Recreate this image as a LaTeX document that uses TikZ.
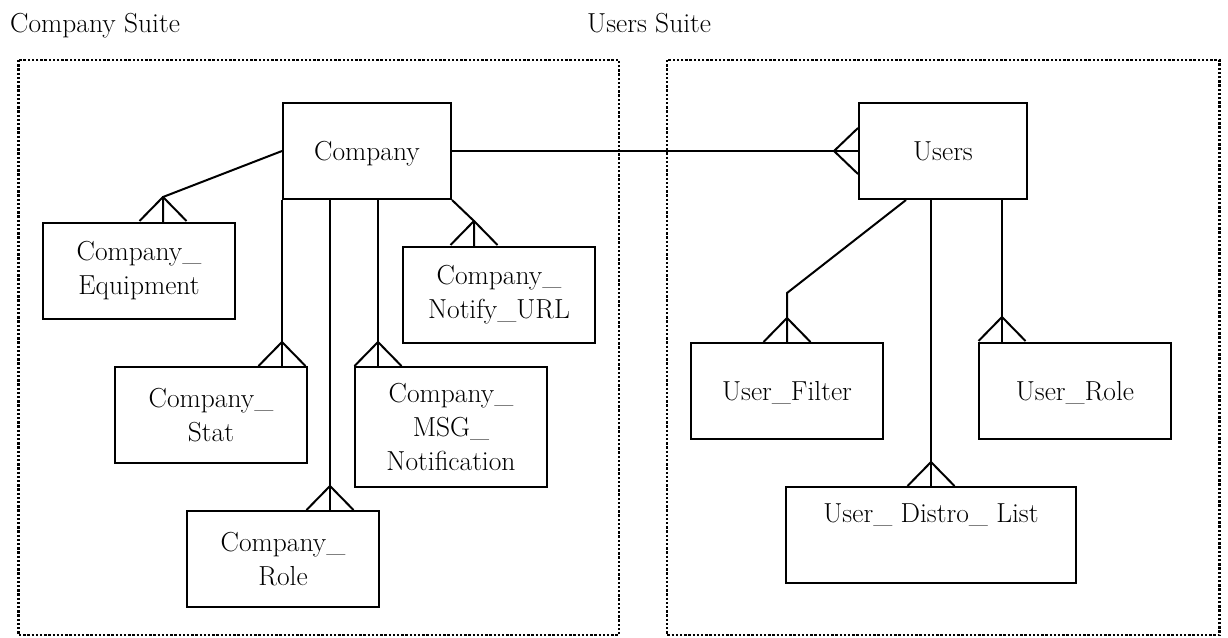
\documentclass[tikz,border=0pt]{standalone}
\usepackage{fontspec}
\usetikzlibrary{calc}
\begin{document}
\begin{tikzpicture}[x=1pt,y=-1pt,
  ent/.style={draw,line width=2pt,align=center,inner sep=0pt,font=\fontsize{27.5}{34}\selectfont},
  oneline/.style={text depth=0pt},
  conn/.style={line width=2pt},
  dotbox/.style={line width=2.5pt,dash pattern=on 2.4pt off 1.8pt},
  lbl/.style={anchor=base west,inner sep=0pt,font=\fontsize{27.5}{34}\selectfont}]
\useasboundingbox (0,0) rectangle (1228,637);
% suite labels and frames
\node[lbl] (cs) at (10,32) {Company Suite};
\node[lbl] (us) at (587,32) {Users Suite};
\draw[dotbox] (18.6,60) rectangle (619,635);
\draw[dotbox] (667,60) rectangle (1219.5,635);
% entities
\node[ent,oneline,minimum width=168pt,minimum height=96pt] (company) at (367,151) {Company};
\node[ent,oneline,minimum width=168pt,minimum height=96pt] (users) at (943,151) {Users};
\node[ent,minimum width=192pt,minimum height=96pt] (equip) at (139,271) {Company\_\\Equipment};
\node[ent,minimum width=192pt,minimum height=96pt] (notify) at (499,295) {Company\_\\Notify\_URL};
\node[ent,minimum width=192pt,minimum height=96pt] (stat) at (211,415) {Company\_\\Stat};
\node[ent,minimum width=192pt,minimum height=120pt] (msg) at (451,427) {Company\_\\MSG\_\\Notification};
\node[ent,minimum width=192pt,minimum height=96pt] (role) at (283,559) {Company\_\\Role};
\node[ent,oneline,minimum width=192pt,minimum height=96pt] (filter) at (787,391) {User\_Filter};
\node[ent,oneline,minimum width=192pt,minimum height=96pt] (urole) at (1075,391) {User\_Role};
\node[ent,minimum width=290pt,minimum height=96pt] (distro) at (931,535) {User\_ Distro\_ List\\ \strut};
% connectors
\newcommand\crowfoot[1]{\draw[conn] (#1) -- ++(-23.5,24) (#1) -- ++(23.5,24);}
% Company -- Users
\draw[conn] (company.east) -- (users.west);
\coordinate (ua) at ($(users.west)+(-24,0)$);
\draw[conn] (ua) -- ++(24,-23) (ua) -- ++(24,23);
% Company -- Equipment
\coordinate (eqb) at ($(equip.north)+(24,-25)$);
\draw[conn] (company.west) -- (eqb) -- (eqb |- equip.north);
\crowfoot{eqb}
% Company -- Notify
\coordinate (nb) at ($(notify.north)+(-25,-25)$);
\draw[conn] (company.south east) -- (nb) -- (nb |- notify.north);
\crowfoot{nb}
% Company -- Stat
\draw[conn] (company.south west) -- (company.south west |- stat.north);
\coordinate (sa) at ($(company.south west |- stat.north)+(0,-24)$);
\crowfoot{sa}
% Company -- Role
\coordinate (rt) at ($(company.south west)+(48,0)$);
\draw[conn] (rt) -- (rt |- role.north);
\coordinate (ra) at ($(rt |- role.north)+(0,-24)$);
\crowfoot{ra}
% Company -- MSG
\coordinate (mt) at ($(company.south west)+(96,0)$);
\draw[conn] (mt) -- (mt |- msg.north);
\coordinate (ma) at ($(mt |- msg.north)+(0,-24)$);
\crowfoot{ma}
% Users -- Filter
\coordinate (ft) at ($(users.south west)+(48,0)$);
\coordinate (fb) at ($(filter.north)+(0,-49)$);
\draw[conn] (ft) -- (fb) -- (filter.north);
\coordinate (fa) at ($(filter.north)+(0,-24)$);
\crowfoot{fa}
% Users -- Distro
\draw[conn] (distro.north |- users.south) -- (distro.north);
\coordinate (da) at ($(distro.north)+(0,-24)$);
\crowfoot{da}
% Users -- User_Role
\coordinate (ot) at ($(users.south west)+(144,0)$);
\draw[conn] (ot) -- (ot |- urole.north);
\coordinate (oa) at ($(ot |- urole.north)+(0,-25)$);
\crowfoot{oa}
\end{tikzpicture}
\end{document}
